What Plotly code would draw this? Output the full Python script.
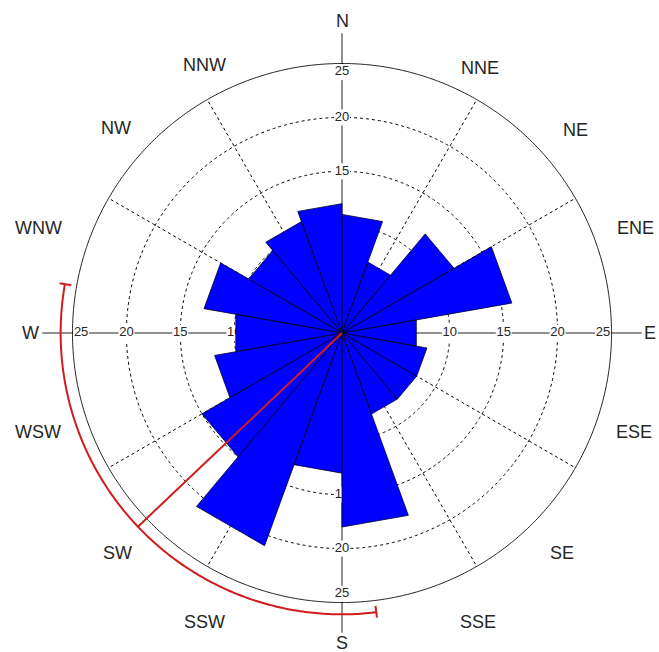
import numpy as np
import plotly.graph_objects as go

# ---- data -------------------------------------------------------------
bin_centers = [10, 30, 50, 70, 90, 110, 130, 150, 170,
               190, 210, 230, 250, 270, 290, 310, 330, 350]
counts = [11, 7, 12, 16, 7, 8, 8, 8, 18, 13, 21, 15, 12, 10, 13, 10, 11, 12]
bin_width = 20

direction_names = ["N", "NNE", "NE", "ENE", "E", "ESE", "SE", "SSE",
                   "S", "SSW", "SW", "WSW", "W", "WNW", "NW", "NNW"]
tick_values = [10, 15, 20, 25]
grid_rings = [5, 10, 15, 20]
outer_ring = 25

mean_direction = 226.5   # degrees, clockwise from north
spread = 53.5            # half-width of the highlighted sector

# ---- layout helpers ---------------------------------------------------
W, H = 659, 652
CX, CY = 342, 333          # centre of the rose in pixels
R_RANGE = 29.0
PX_PER_UNIT = 10.78
R_PX = R_RANGE * PX_PER_UNIT

dom_x = [(CX - R_PX) / W, (CX + R_PX) / W]
dom_y = [(H - CY - R_PX) / H, (H - CY + R_PX) / H]

# direction label placement (radius, angle)
label_r = [28.9, 27.7, 28.7, 28.9, 28.6, 28.6, 28.8, 29.6,
           28.8, 29.7, 29.2, 29.7, 28.9, 29.8, 28.3, 27.9]
label_theta = [0, 27.5, 48.9, 70.3, 90, 108.7, 135, 154.8,
               180, 205.4, 225.6, 252, 270, 289, 312.2, 332.9]


def to_paper(r, theta):
    """Polar (r, compass degrees) -> paper coordinates of the rose."""
    t = np.deg2rad(theta)
    px = CX + r * PX_PER_UNIT * np.sin(t)
    py = CY - r * PX_PER_UNIT * np.cos(t)
    return px / W, (H - py) / H


FONT = "Liberation Sans, Arial, Helvetica, sans-serif"
TEXT_COLOR = "#262626"
RED = "#d01c1c"

fig = go.Figure()

ring_theta = np.linspace(0, 360, 721)

# dashed rings
ring_r, ring_t = [], []
for v in grid_rings:
    ring_r += [v] * len(ring_theta) + [None]
    ring_t += list(ring_theta) + [None]
fig.add_trace(go.Scatterpolar(r=ring_r, theta=ring_t, mode="lines",
                              line=dict(color="black", width=1, dash="3px,3px"),
                              hoverinfo="skip"))

# dashed spokes every 30 degrees (cardinal directions drawn solid below)
sp_r, sp_t = [], []
for a in range(30, 360, 30):
    if a % 90 == 0:
        continue
    sp_r += [0, outer_ring, None]
    sp_t += [a, a, None]
fig.add_trace(go.Scatterpolar(r=sp_r, theta=sp_t, mode="lines",
                              line=dict(color="black", width=1, dash="3px,3px"),
                              hoverinfo="skip"))

# solid outer ring
fig.add_trace(go.Scatterpolar(r=[outer_ring] * len(ring_theta), theta=ring_theta,
                              mode="lines", line=dict(color="#222", width=1),
                              hoverinfo="skip"))

# solid cardinal axes
ax_r, ax_t = [], []
for a in [0, 90, 180, 270]:
    ax_r += [0, 27.8, None]
    ax_t += [a, a, None]
fig.add_trace(go.Scatterpolar(r=ax_r, theta=ax_t, mode="lines",
                              line=dict(color="#222", width=1),
                              hoverinfo="skip", cliponaxis=False))

# radial tick labels along the four cardinal axes
tk_r, tk_t, tk_s = [], [], []
for a in [0, 90, 180, 270]:
    for v in tick_values:
        tk_r.append(v if v < outer_ring else v - 0.8)
        tk_t.append(a)
        tk_s.append(str(v))
fig.add_trace(go.Scatterpolar(r=tk_r, theta=tk_t, text=tk_s, mode="markers+text",
                              textposition="middle center",
                              marker=dict(symbol="square", size=16, color="white"),
                              textfont=dict(family=FONT, size=13, color=TEXT_COLOR),
                              hoverinfo="skip"))

# rose wedges (straight outer edges)
b_r, b_t = [], []
for c, n in zip(bin_centers, counts):
    a0, a1 = c - bin_width / 2, c + bin_width / 2
    b_r += [0, n, n, 0, None]
    b_t += [a0, a0, a1, a0, None]
fig.add_trace(go.Scatterpolar(r=b_r, theta=b_t, mode="lines", fill="toself",
                              fillcolor="#0000ff",
                              line=dict(color="#000033", width=0.8),
                              hoverinfo="skip"))

# mean direction and spread
arc_r = 26.1
arc_theta = np.linspace(mean_direction - spread, mean_direction + spread, 200)
fig.add_trace(go.Scatterpolar(r=[arc_r] * len(arc_theta), theta=arc_theta,
                              mode="lines", line=dict(color=RED, width=2),
                              hoverinfo="skip", cliponaxis=False))
cap_r, cap_t = [], []
for a in [mean_direction - spread, mean_direction + spread]:
    cap_r += [arc_r - 0.6, arc_r + 0.5, None]
    cap_t += [a, a, None]
fig.add_trace(go.Scatterpolar(r=cap_r, theta=cap_t, mode="lines",
                              line=dict(color=RED, width=2),
                              hoverinfo="skip", cliponaxis=False))
fig.add_trace(go.Scatterpolar(r=[0, arc_r], theta=[mean_direction, mean_direction],
                              mode="lines", line=dict(color=RED, width=2),
                              hoverinfo="skip", cliponaxis=False))

# compass labels around the rim
annotations = []
for name, r, t in zip(direction_names, label_r, label_theta):
    x, y = to_paper(r, t)
    annotations.append(dict(x=x, y=y, xref="paper", yref="paper", text=name,
                            showarrow=False, xanchor="center", yanchor="middle",
                            font=dict(family=FONT, size=18, color=TEXT_COLOR)))

fig.update_layout(
    width=W, height=H,
    margin=dict(l=0, r=0, t=0, b=0),
    paper_bgcolor="white",
    showlegend=False,
    annotations=annotations,
    polar=dict(
        domain=dict(x=dom_x, y=dom_y),
        bgcolor="white",
        radialaxis=dict(range=[0, R_RANGE], visible=False, showgrid=False,
                        showline=False, showticklabels=False, ticks=""),
        angularaxis=dict(rotation=90, direction="clockwise", visible=False,
                         showgrid=False, showline=False, showticklabels=False,
                         ticks=""),
    ),
)

fig.write_html("out.html")
